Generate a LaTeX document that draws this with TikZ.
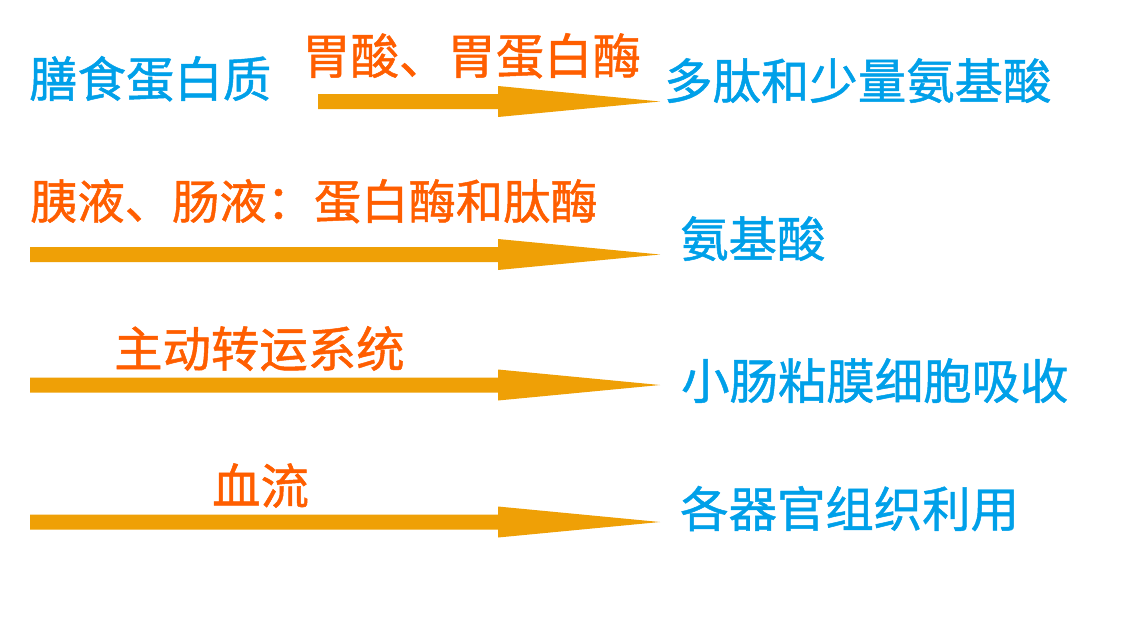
\documentclass[tikz,border=0pt]{standalone}
\usepackage{fontspec}
\newfontfamily\cjk[FakeBold=1]{Noto Sans CJK SC}
\usetikzlibrary{calc}
\definecolor{arrowcol}{HTML}{EFA006}
\definecolor{redtxt}{HTML}{FF5E00}
\definecolor{bluetxt}{HTML}{00A0E9}
\newcommand\blockarrow[2]{%
  \fill[arrowcol] ($(#1)+(0,-7.5)$) -- ($(#2)+(-162,-7.5)$) -- ($(#2)+(-162,-15.5)$)
   -- (#2) -- ($(#2)+(-162,15.5)$) -- ($(#2)+(-162,7.5)$) -- ($(#1)+(0,7.5)$) -- cycle;}
\begin{document}
\begin{tikzpicture}[x=1pt,y=-1pt,
  lbl/.style={inner sep=0pt,anchor=base west,font=\cjk\fontsize{48.4}{48}\selectfont},
  blue/.style={lbl,text=bluetxt},
  red/.style={lbl,text=redtxt}]
\useasboundingbox[fill=white] (0,0) rectangle (1138,638);
% texts
\node[blue] (t1) at (29,97) {膳食蛋白质};
\node[red]  (e1) at (302,74) {胃酸、胃蛋白酶};
\node[blue] (r1) at (664,99) {多肽和少量氨基酸};
\node[red,font=\cjk\fontsize{47.3}{48}\selectfont]  (e2) at (30,219) {胰液、肠液：蛋白酶和肽酶};
\node[blue] (r2) at (680,257) {氨基酸};
\node[red]  (e3) at (114,367) {主动转运系统};
\node[blue] (r3) at (681,399) {小肠粘膜细胞吸收};
\node[red]  (e4) at (212,504) {血流};
\node[blue] (r4) at (680,527) {各器官组织利用};
% arrows
\coordinate (s1) at (318,101.5); \coordinate (a1) at (660,101.5);
\coordinate (s2) at (30,254.5);  \coordinate (a2) at (660,254.5);
\coordinate (s3) at (30,385);    \coordinate (a3) at (660,385);
\coordinate (s4) at (30,522);    \coordinate (a4) at (660,522);
\blockarrow{s1}{a1}
\blockarrow{s2}{a2}
\blockarrow{s3}{a3}
\blockarrow{s4}{a4}
\end{tikzpicture}
\end{document}
